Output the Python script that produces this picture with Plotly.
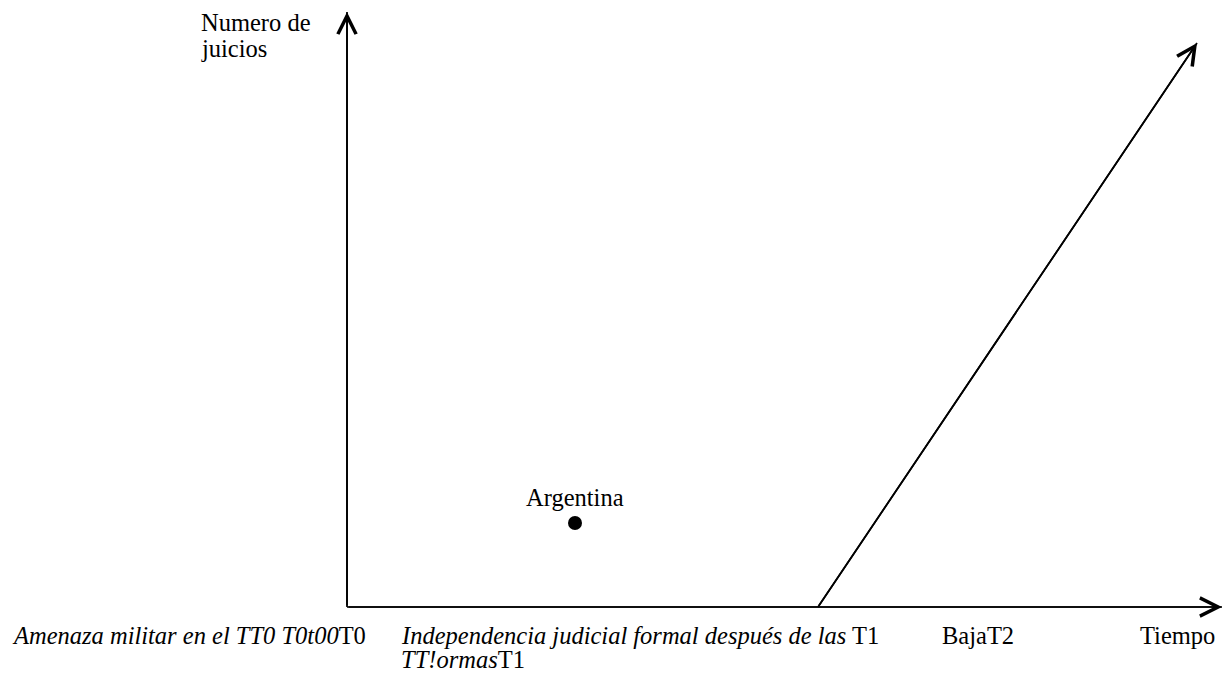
import plotly.graph_objects as go

# Conceptual coordinates: time (x) and number of trials (y)
axis_origin = (0.0, 0.0)
x_axis_end = 8.75
y_axis_end = 5.95

point_names = ["Argentina"]
point_x = [2.28]
point_y = [0.84]

trend_x = [4.71, 8.50]
trend_y = [0.0, 5.64]

y_title_lines = ["Numero de", "juicios"]
tick_label_T0 = "<i>Amenaza militar en el TT0 T0t00</i>T0"
tick_label_T1 = ["<i>Independencia judicial formal después de las</i> T1", "<i>TT!ormas</i>T1"]
tick_label_T2 = "BajaT2"
x_title = "Tiempo"

FONT = "Liberation Serif, Times New Roman, serif"
FS = 24.5
BLACK = "#000000"

fig = go.Figure()

# axes lines
fig.add_trace(go.Scatter(x=[axis_origin[0], x_axis_end], y=[axis_origin[1], axis_origin[1]],
                         mode="lines", line=dict(color=BLACK, width=1.7), hoverinfo="skip"))
fig.add_trace(go.Scatter(x=[axis_origin[0], axis_origin[0]], y=[axis_origin[1], y_axis_end],
                         mode="lines", line=dict(color=BLACK, width=1.7), hoverinfo="skip"))
# trend line
fig.add_trace(go.Scatter(x=trend_x, y=trend_y, mode="lines",
                         line=dict(color=BLACK, width=1.7), hoverinfo="skip"))
# point
fig.add_trace(go.Scatter(x=point_x, y=point_y, mode="markers", text=point_names,
                         marker=dict(color=BLACK, size=14)))

annotations = []
# arrowheads
for (x0, y0, x1, y1) in [
    (axis_origin[0], axis_origin[1], x_axis_end, axis_origin[1]),
    (axis_origin[0], axis_origin[1], axis_origin[0], y_axis_end),
    (trend_x[0], trend_y[0], trend_x[1], trend_y[1]),
]:
    annotations.append(dict(x=x1, y=y1, ax=x0, ay=y0, xref="x", yref="y", axref="x", ayref="y",
                            text="", showarrow=True, arrowhead=5, arrowsize=2.1,
                            arrowwidth=1.7, arrowcolor=BLACK))

txt = dict(family=FONT, size=FS, color=BLACK)
annotations += [
    dict(x=point_x[0], y=point_y[0] + 0.26, xref="x", yref="y", text=point_names[0],
         showarrow=False, xanchor="center", yanchor="middle", font=txt),
    dict(x=-1.48, y=5.85, xref="x", yref="y", text=y_title_lines[0], showarrow=False,
         xanchor="left", yanchor="middle", font=txt),
    dict(x=-1.48, y=5.59, xref="x", yref="y", text=y_title_lines[1], showarrow=False,
         xanchor="left", yanchor="middle", font=txt),
    dict(x=-3.37, y=-0.28, xref="x", yref="y", text=tick_label_T0, showarrow=False,
         xanchor="left", yanchor="middle", font=txt),
    dict(x=0.52, y=-0.28, xref="x", yref="y", text=tick_label_T1[0], showarrow=False,
         xanchor="left", yanchor="middle", font=txt),
    dict(x=0.52, y=-0.52, xref="x", yref="y", text=tick_label_T1[1], showarrow=False,
         xanchor="left", yanchor="middle", font=txt),
    dict(x=6.31, y=-0.28, xref="x", yref="y", text=tick_label_T2, showarrow=False,
         xanchor="center", yanchor="middle", font=txt),
    dict(x=8.70, y=-0.28, xref="x", yref="y", text=x_title, showarrow=False,
         xanchor="right", yanchor="middle", font=txt),
]

fig.update_layout(
    width=1225, height=673,
    margin=dict(l=0, r=0, t=0, b=0),
    paper_bgcolor="white", plot_bgcolor="white",
    showlegend=False,
    xaxis=dict(range=[-3.47, 8.78], visible=False, fixedrange=True),
    yaxis=dict(range=[-0.66, 6.07], visible=False, fixedrange=True),
    annotations=annotations,
    font=dict(family=FONT, color=BLACK),
)

fig.write_html("out.html", config={"displayModeBar": False},
               post_script="document.body.style.margin='0';document.body.style.overflow='hidden';")
